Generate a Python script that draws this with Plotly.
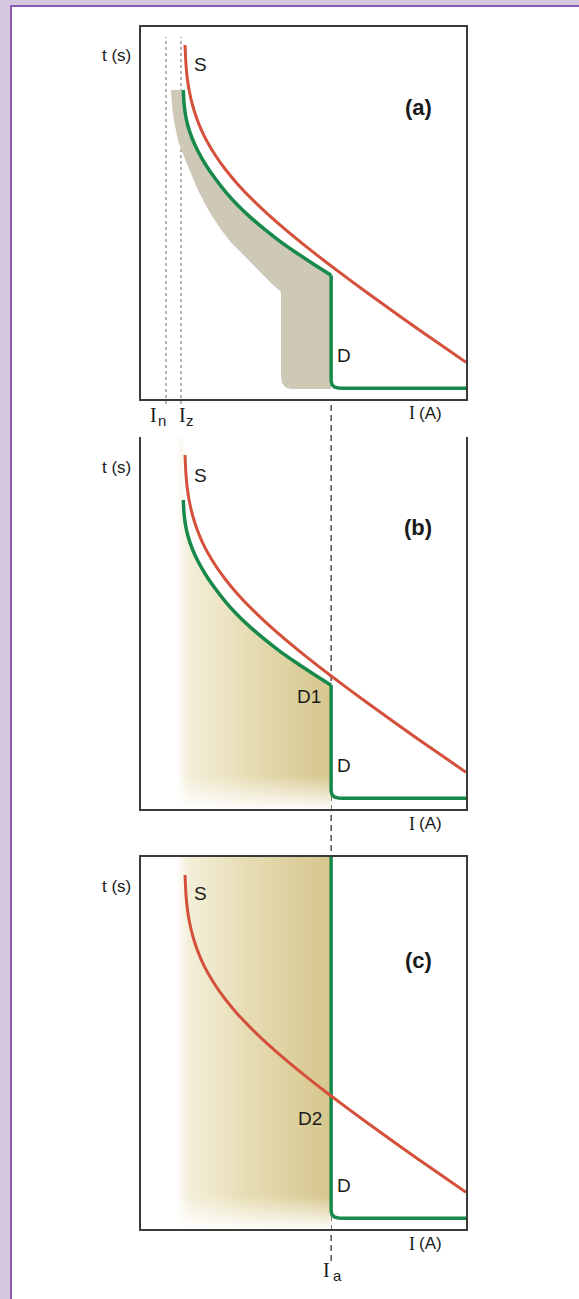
import plotly.graph_objects as go

W, H = 579, 1299

# ---- characteristic data (arbitrary units: current I 0..100, time t 0..100) ----
# S : thermal withstand curve of the cable
s_i = [13.54, 13.85, 14.31, 14.92, 15.85, 17.08, 18.62, 20.46, 22.92, 26.0, 29.69,
       34.0, 38.92, 44.46, 51.23, 58.62, 69.08, 79.54, 90.0, 100.0]
s_t = [95.16, 89.78, 85.75, 82.53, 79.03, 75.59, 72.23, 69.0, 65.46, 61.69, 57.82,
       53.87, 49.78, 45.54, 40.70, 35.67, 28.90, 22.31, 15.91, 9.89]

# D : long-time (thermal) part of the breaker tripping curve
d_i = [13.02, 13.23, 13.69, 14.46, 15.69, 17.54, 20.0, 22.77, 26.15, 29.85, 33.54,
       38.15, 42.77, 47.69, 52.92, 58.5]
d_t = [83.06, 79.57, 76.34, 73.39, 70.16, 66.61, 62.85, 59.33, 55.56, 52.02, 48.95,
       45.51, 42.39, 39.38, 36.37, 33.28]

# D : instantaneous (magnetic) part, threshold Ia, then the breaking-time floor
i_a = 58.5
inst_i = [58.5, 58.5, 58.8, 59.6, 60.8, 62.2, 100.0]
inst_t = [33.28, 4.8, 3.8, 3.2, 2.95, 2.9, 2.9]

# lower edge of the tolerance band of D in panel (a)
band_i = [9.23, 9.42, 9.69, 10.09, 10.62, 11.38, 12.46, 13.85, 15.38, 17.23, 19.38,
          21.85, 24.62, 27.69, 31.69, 36.0, 40.31, 43.08, 43.08, 43.38, 44.15, 45.23, 46.46]
band_t = [83.06, 80.38, 77.69, 75.0, 72.31, 69.62, 66.80, 63.71, 60.35, 56.72, 52.96,
          49.19, 45.56, 42.07, 38.58, 34.68, 30.91, 28.76, 6.18, 4.30, 3.36, 2.88, 2.69]

# rated current In and permissible cable current Iz
i_n = 7.7
i_z = 12.3

# left edge of the shaded operating zones in (b) and (c)
zone_left = 10.8

RED = "#D4503A"
GREEN = "#17894B"
BAND = "#CEC8B7"
TAN = "#D6C68D"
AXIS = "#3A3A3A"
FONT = "Liberation Sans, Arial, sans-serif"
SERIF = "Liberation Serif, Times New Roman, serif"

# panel frames in pixels (top, bottom); common left/right
X_LEFT, X_RIGHT = 141, 466
PANELS = {"a": (27, 399), "b": (437, 809), "c": (857, 1229)}


def fx(p):
    return p / W


def fy(p):
    return 1 - p / H


fig = go.Figure()

# ---------------- panel (a): tolerance band ----------------
# outline: lower edge down, along the floor, up the instantaneous step, back along D
band_x = band_i + [i_a] + d_i[::-1] + [band_i[0]]
band_y = band_t + [band_t[-1]] + d_t[::-1] + [band_t[0]]
fig.add_trace(go.Scatter(x=band_x, y=band_y, fill="toself", fillcolor=BAND,
                         mode="lines", line=dict(width=0), hoverinfo="skip",
                         xaxis="x", yaxis="y"))

# ---------------- panels (b) and (c): operating zones ----------------
zone_b_x = [zone_left, d_i[0]] + d_i + [i_a, zone_left, zone_left]
zone_b_y = [100, 100] + d_t + [0, 0, 100]
zone_c_x = [zone_left, i_a, i_a, zone_left, zone_left]
zone_c_y = [100, 100, 0, 0, 100]

grad = dict(type="horizontal", start=zone_left, stop=i_a,
            colorscale=[[0.0, "rgba(255,255,255,1)"], [0.08, "#F4EFD9"],
                        [0.45, "#E7DDB5"], [1.0, TAN]])
fade = dict(type="vertical", start=0, stop=9,
            colorscale=[[0.0, "rgba(255,255,255,0.95)"], [1.0, "rgba(255,255,255,0)"]])

for ax, (zx, zy) in (("2", (zone_b_x, zone_b_y)), ("3", (zone_c_x, zone_c_y))):
    fig.add_trace(go.Scatter(x=zx, y=zy, fill="toself", fillgradient=grad,
                             mode="lines", line=dict(width=0), hoverinfo="skip",
                             xaxis="x" + ax, yaxis="y" + ax))
    fig.add_trace(go.Scatter(x=[zone_left, i_a, i_a, zone_left, zone_left],
                             y=[0, 0, 9, 9, 0], fill="toself", fillgradient=fade,
                             mode="lines", line=dict(width=0), hoverinfo="skip",
                             xaxis="x" + ax, yaxis="y" + ax))

# ---------------- curves ----------------
for ax in ("", "2", "3"):
    xa, ya = "x" + ax, "y" + ax
    if ax == "3":
        # only the instantaneous trip remains: vertical at Ia over the full height
        fig.add_trace(go.Scatter(x=[i_a] + inst_i, y=[100] + inst_t, mode="lines",
                                 line=dict(color=GREEN, width=3.5), hoverinfo="skip",
                                 xaxis=xa, yaxis=ya))
    else:
        fig.add_trace(go.Scatter(x=d_i, y=d_t, mode="lines",
                                 line=dict(color=GREEN, width=3.5, shape="spline", smoothing=0.6),
                                 hoverinfo="skip", xaxis=xa, yaxis=ya))
        fig.add_trace(go.Scatter(x=inst_i, y=inst_t, mode="lines",
                                 line=dict(color=GREEN, width=3.5), hoverinfo="skip",
                                 xaxis=xa, yaxis=ya))
    fig.add_trace(go.Scatter(x=s_i, y=s_t, mode="lines",
                             line=dict(color=RED, width=3, shape="spline", smoothing=0.6),
                             hoverinfo="skip", xaxis=xa, yaxis=ya))

# ---------------- axes ----------------
layout_axes = {}
for key, ax in (("a", ""), ("b", "2"), ("c", "3")):
    top, bottom = PANELS[key]
    common = dict(range=[0, 100], showgrid=False, zeroline=False, showticklabels=False,
                  ticks="", showline=True, linecolor=AXIS, linewidth=2, fixedrange=True)
    xa = dict(common, domain=[fx(X_LEFT), fx(X_RIGHT)], anchor="y" + ax,
              mirror=(key != "b"))
    ya = dict(common, domain=[fy(bottom), fy(top)], anchor="x" + ax, mirror=True)
    layout_axes["xaxis" + ax] = xa
    layout_axes["yaxis" + ax] = ya

# ---------------- background & reference lines ----------------
shapes = [
    dict(type="rect", xref="paper", yref="paper", x0=fx(11), x1=1.05, y0=-0.05, y1=fy(6),
         fillcolor="white", line=dict(color="#8C5AAE", width=2), layer="below"),
]
for val in (i_n, i_z):
    shapes.append(dict(type="line", xref="x", yref="paper", x0=val, x1=val,
                       y0=fy(404), y1=fy(37), line=dict(color="#9A9A9A", width=1.5, dash="dot"),
                       layer="below"))
shapes.append(dict(type="line", xref="x", yref="paper", x0=i_a, x1=i_a,
                   y0=fy(1261), y1=fy(399), line=dict(color="#222222", width=1.2, dash="6px,4px"),
                   layer="below"))

# ---------------- text ----------------
ann = []


def label(text, x, y, size=17, bold=False, xanchor="center", family=FONT):
    if bold:
        text = "<b>" + text + "</b>"
    ann.append(dict(text=text, x=fx(x), y=fy(y), xref="paper", yref="paper",
                    xanchor=xanchor, yanchor="middle", showarrow=False,
                    font=dict(family=family, size=size, color="#1A1A1A")))


for ty, sy, dy, iy in ((55, 64, 355.5, 413.5),
                       (467, 475, 765.5, 823.5),
                       (886, 893, 1185, 1243.5)):
    label("t (s)", 133, ty, 17, xanchor="right")
    label("S", 200, sy, 19)
    label("D", 344, dy, 19)
    label("I", 411.5, iy, 18, family=SERIF)
    label("(A)", 417, iy, 17, xanchor="left")
label("(a)", 418, 108, 22, bold=True)
label("(b)", 418, 527, 22, bold=True)
label("(c)", 418, 960, 22, bold=True)
label("D1", 308.5, 696, 19)
label("D2", 309.5, 1118, 19)

# current markers under the axes: serif capital I with a small subscript
for ix, sx, sub, y in ((153, 162, "n", 415), (182, 190, "z", 415), (326, 337.5, "a", 1270)):
    label("I", ix, y, 20, family=SERIF)
    label(sub, sx, y + 5, 15)

fig.update_layout(
    width=W, height=H, margin=dict(l=0, r=0, t=0, b=0),
    paper_bgcolor="#D6C7E1", plot_bgcolor="rgba(0,0,0,0)",
    showlegend=False, shapes=shapes, annotations=ann, **layout_axes,
)

fig.write_html("out.html", config={"displayModeBar": False})
